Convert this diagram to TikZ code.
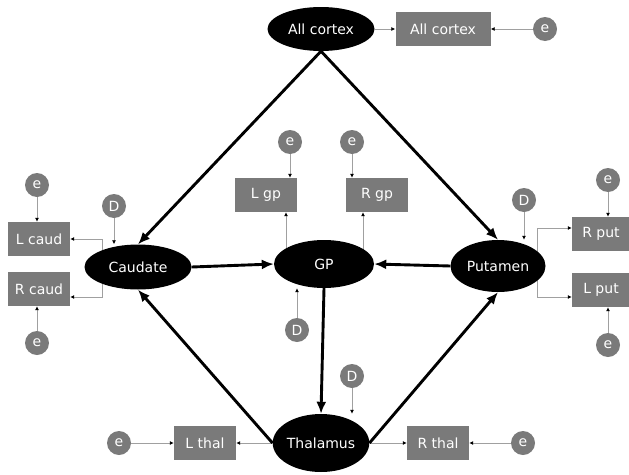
\documentclass[tikz,border=0pt]{standalone}
\usepackage{fontspec}
\setmainfont{DejaVu Sans}
\usetikzlibrary{arrows.meta,backgrounds,shapes.geometric}
\definecolor{boxgray}{RGB}{122,122,122}
\definecolor{linegray}{RGB}{160,160,160}
\begin{document}
\begin{tikzpicture}[x=1pt,y=-1pt,
  every node/.style={font=\fontsize{14}{16}\selectfont, text=white, inner sep=0pt},
  region/.style={ellipse, fill=black},
  obsbox/.style={rectangle, fill=boxgray, minimum width=62pt, minimum height=34pt},
  errc/.style={circle, fill=boxgray, minimum size=24pt},
  thinarr/.style={draw=linegray, line width=1pt, -{Latex[black,length=4pt,width=4pt]}},
  thickarr/.style={draw=black, line width=2.9pt, -{Latex[length=12pt,width=10pt]}}]
\useasboundingbox (0,0) rectangle (629,474);
% region ellipses
\node[region, minimum width=107pt, minimum height=44pt] (ac) at (321,29) {All cortex};
\node[region, minimum width=107pt, minimum height=45pt] (caud) at (138,267) {Caudate};
\node[region, minimum width=100pt, minimum height=48pt] (gp) at (324,264) {GP};
\node[region, minimum width=95pt, minimum height=52pt] (put) at (498,266) {Putamen};
\node[region, minimum width=95pt, minimum height=58pt] (thal) at (321,443) {Thalamus};
% observed boxes
\node[obsbox, minimum width=95pt] (acbox) at (443,29) {All cortex};
\node[obsbox] (lcaud) at (39,239) {L caud};
\node[obsbox] (rcaud) at (39,289) {R caud};
\node[obsbox] (lgp) at (266,195) {L gp};
\node[obsbox] (rgp) at (377,195) {R gp};
\node[obsbox, minimum width=58pt] (rput) at (601,234) {R put};
\node[obsbox, minimum width=58pt] (lput) at (601,290) {L put};
\node[obsbox] (lthal) at (205,443) {L thal};
\node[obsbox] (rthal) at (438,443) {R thal};
% error and disturbance circles
\node[errc] (eac) at (545,29) {e};
\node[errc] (e1) at (37,185) {e};
\node[errc] (e2) at (37,343) {e};
\node[errc] (e3) at (290,142) {e};
\node[errc] (e4) at (352,142) {e};
\node[errc] (e5) at (608,180) {e};
\node[errc] (e6) at (608,345) {e};
\node[errc] (e7) at (119,443) {e};
\node[errc] (e8) at (523,443) {e};
\node[errc] (d1) at (114,206) {D};
\node[errc] (d2) at (297,330) {D};
\node[errc] (d3) at (524,200) {D};
\node[errc] (d4) at (352,376) {D};
% helper coordinates
\coordinate (cb) at (102,267);
\coordinate (pb) at (537,266);
\coordinate (gpl) at (286,264);
\coordinate (gpr) at (363,264);
% thin connectors
\begin{scope}[on background layer]
\draw[thinarr] (cb) |- (lcaud.east);
\draw[thinarr] (cb) |- ([yshift=-8pt]rcaud.east);
\draw[thinarr] (pb) |- ([yshift=6pt]rput.west);
\draw[thinarr] (pb) |- ([yshift=-7pt]lput.west);
\draw[thinarr] (gpl) -- (gpl |- lgp.south);
\draw[thinarr] (gpr) -- (gpr |- rgp.south);
\end{scope}
\draw[thinarr] (ac.east) -- (acbox.west);
\draw[thinarr] (eac) -- (acbox.east);
\draw[thinarr] (e1) -- (e1 |- lcaud.north);
\draw[thinarr] (e2) -- (e2 |- rcaud.south);
\draw[thinarr] (e5) -- (e5 |- rput.north);
\draw[thinarr] (e6) -- (e6 |- lput.south);
\draw[thinarr] (e3) -- (e3 |- lgp.north);
\draw[thinarr] (e4) -- (e4 |- rgp.north);
\draw[thinarr] (d1) -- (d1 |- caud.north);
\draw[thinarr] (d2) -- (d2 |- gp.south);
\draw[thinarr] (d3) -- (d3 |- put.north);
\draw[thinarr] (d4) -- (d4 |- thal.north);
\draw[thinarr] (thal.west) -- (lthal.east);
\draw[thinarr] (thal.east) -- (rthal.west);
\draw[thinarr] (e7) -- (lthal.west);
\draw[thinarr] (e8) -- (rthal.east);
% thick connectors
\draw[thickarr] (ac.south) -- (caud.north);
\draw[thickarr] (ac.south) -- (put.north);
\draw[thickarr] (thal.west) -- (caud.south);
\draw[thickarr] (thal.east) -- (put.south);
\draw[thickarr] (caud.east) -- (gp.west);
\draw[thickarr] (put.west) -- (gp.east);
\draw[thickarr] (gp.south) -- (thal.north);
\end{tikzpicture}
\end{document}
